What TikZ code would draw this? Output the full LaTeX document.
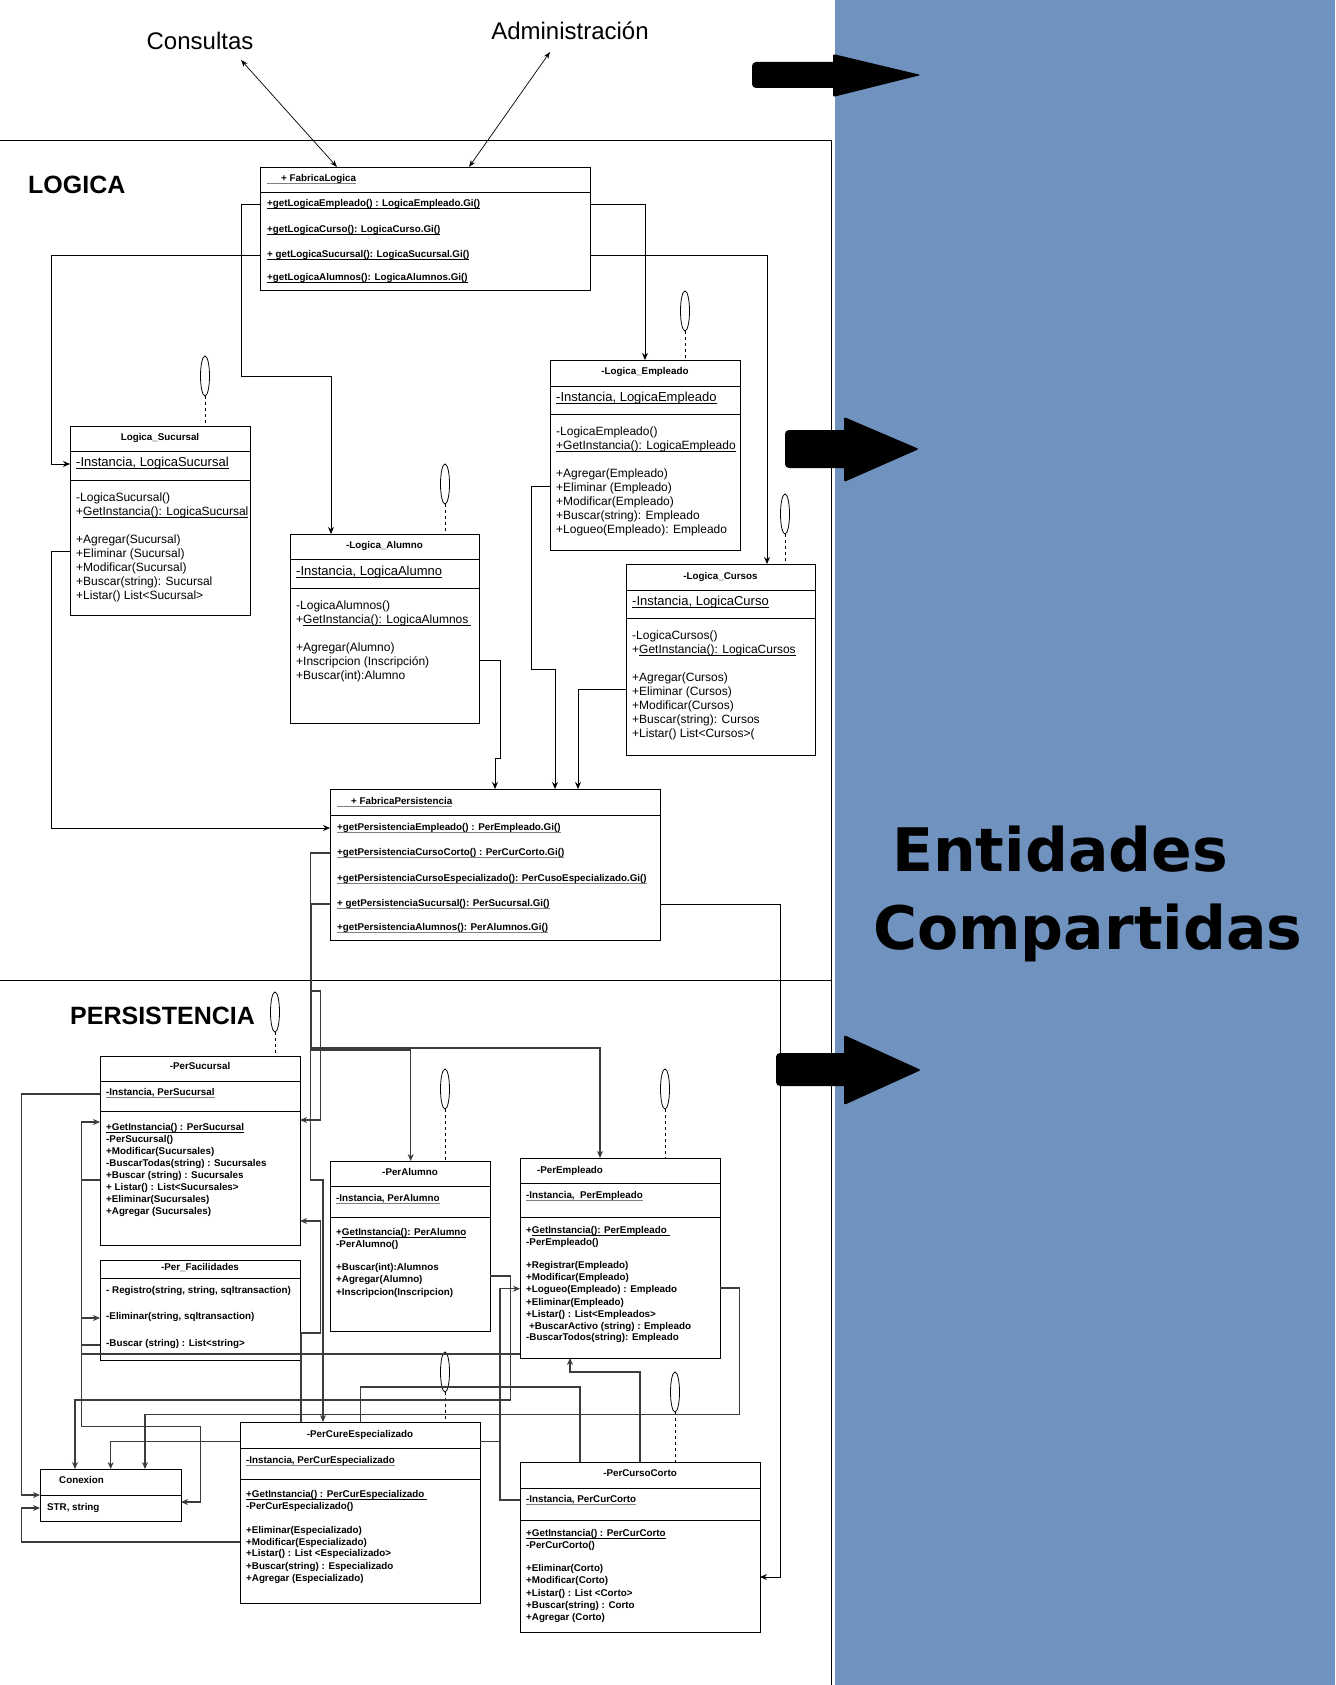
\documentclass[tikz,border=0pt]{standalone}
\usepackage{fontspec}
\setmainfont{Liberation Sans}
\newfontfamily\dejavu{DejaVu Sans}
\usetikzlibrary{arrows.meta,shapes.geometric,calc}
\definecolor{panel}{RGB}{112,146,190}
\definecolor{plinec}{RGB}{60,60,60}
\newcommand{\myul}[2][black]{\setbox0=\hbox{#2}\rlap{\color{#1}\rule[-1.9pt]{\wd0}{0.6pt}}\box0}
\begin{document}
\begin{tikzpicture}[x=1pt,y=-1pt,
  umlbox/.style={draw=black, line width=0.9pt, inner sep=0pt, outer sep=0pt, anchor=north west},
  lt/.style={inner sep=0pt, text height=0.7em, text depth=0.2em, anchor=west, font=\fontsize{12}{14}\selectfont},
  lat/.style={lt, font=\fontsize{13}{15}\selectfont},
  ltt/.style={lt, anchor=center, font=\bfseries\fontsize{9.8}{12}\selectfont},
  pt/.style={lt, font=\bfseries\fontsize{9.8}{12}\selectfont},
  ptt/.style={lt, anchor=center, font=\bfseries\fontsize{9.8}{12}\selectfont},
  life/.style={draw=black, line width=0.8pt, ellipse, minimum width=9pt, minimum height=40pt, inner sep=0pt},
  lifedash/.style={draw=black, line width=0.8pt, dashed},
  conn/.style={draw=black, line width=0.9pt, -{Stealth[length=7pt,width=6pt]}},
  pconn/.style={draw=plinec, line width=1.1pt, -{Stealth[length=7pt,width=6pt]}},
  pline/.style={draw=plinec, line width=1.1pt},
  dbl/.style={draw=black, line width=0.7pt, {Stealth[length=7pt,width=5pt]}-{Stealth[length=7pt,width=5pt]}},
  big/.style={fill=black}
]
\useasboundingbox (0,0) rectangle (1335,1685);
% panel and frame
\fill[panel] (835,0) rectangle (1335,1685);
\draw[line width=0.9pt] (0,140) -- (831,140);
\draw[line width=0.9pt] (0,980) -- (831,980);
\draw[line width=0.9pt] (831,140) -- (831,1685);

% big arrows
\fill[big, rounded corners=4pt] (752,62) rectangle (842,88);
\fill[big, rounded corners=2pt] (833,54) -- (921,75) -- (833,97) -- cycle;
\fill[big, rounded corners=4pt] (785,430) rectangle (850,468);
\fill[big, rounded corners=2pt] (844,417) -- (919,449) -- (844,482) -- cycle;
\fill[big, rounded corners=4pt] (776,1053) rectangle (850,1086);
\fill[big, rounded corners=2pt] (844,1035) -- (921,1070) -- (844,1105) -- cycle;

\node[inner sep=0pt, anchor=base west, font=\dejavu\bfseries\fontsize{60}{66}\selectfont] (ent1) at (892,871) {Entidades};
\node[inner sep=0pt, anchor=base west, font=\dejavu\bfseries\fontsize{60}{66}\selectfont] (ent2) at (873,949) {Compartidas};

% titles
\node[inner sep=0pt, font=\fontsize{24}{28}\selectfont] (cons) at (200,41) {Consultas};
\node[inner sep=0pt, font=\fontsize{24}{28}\selectfont] (admin) at (570,31) {Administración};
\node[inner sep=0pt, anchor=west, font=\bfseries\fontsize{25}{28}\selectfont] (logica) at (28,185) {LOGICA};
\node[inner sep=0pt, anchor=west, font=\bfseries\fontsize{25}{28}\selectfont] (pers) at (70,1016) {PERSISTENCIA};

% ---------------- FabricaLogica
\node[umlbox, minimum width=330pt, minimum height=123pt] (FL) at (260,167) {};
\draw[line width=0.9pt] (FL.west |- 0,192) -- (FL.east |- 0,192);
\node[pt] (fl0) at (267,179) {\myul[gray]{\hspace{14pt}+ FabricaLogica}};
\node[pt] (fl1) at (267,204) {\myul{+getLogicaEmpleado() : LogicaEmpleado.Gi()}};
\node[pt] (fl2) at (267,230) {\myul{+getLogicaCurso(): LogicaCurso.Gi()}};
\node[pt] (fl3) at (267,255) {\myul{+ getLogicaSucursal(): LogicaSucursal.Gi()}};
\node[pt] (fl4) at (267,278) {\myul{+getLogicaAlumnos(): LogicaAlumnos.Gi()}};

\coordinate (consA) at (241,60);
\coordinate (adminA) at (550,52);
\draw[dbl] (FL.north -| 337,0) -- (consA);
\draw[dbl] (FL.north -| 469,0) -- (adminA);

% ---------------- Logica_Sucursal
\node[umlbox, minimum width=180pt, minimum height=189pt] (LS) at (70,426) {};
\draw[line width=0.9pt] (LS.west |- 0,451) -- (LS.east |- 0,451);
\draw[line width=0.9pt] (LS.west |- 0,480) -- (LS.east |- 0,480);
\node[ltt] (ls0) at (160,438) {Logica\_Sucursal};
\node[lat] (ls1) at (76,464) {\myul{-Instancia, LogicaSucursal}};
\node[lt] (ls2) at (76,499) {-LogicaSucursal()};
\node[lt] (ls3) at (76,513) {+\myul{GetInstancia(): LogicaSucursal}};
\node[lt] (ls4) at (76,541) {+Agregar(Sucursal)};
\node[lt] (ls5) at (76,555) {+Eliminar (Sucursal)};
\node[lt] (ls6) at (76,569) {+Modificar(Sucursal)};
\node[lt] (ls7) at (76,583) {+Buscar(string): Sucursal};
\node[lt] (ls8) at (76,597) {+Listar() List<Sucursal>};
\node[life] (eLS) at (205,376) {};
\draw[lifedash] (eLS.south) -- (LS.north -| eLS.south);

% ---------------- Logica_Alumno
\node[umlbox, minimum width=189pt, minimum height=189pt] (LA) at (290,534) {};
\draw[line width=0.9pt] (LA.west |- 0,559) -- (LA.east |- 0,559);
\draw[line width=0.9pt] (LA.west |- 0,588) -- (LA.east |- 0,588);
\node[ltt] (la0) at (384.5,546) {-Logica\_Alumno};
\node[lat] (la1) at (296,573) {\myul{-Instancia, LogicaAlumno}};
\node[lt] (la2) at (296,607) {-LogicaAlumnos()};
\node[lt] (la3) at (296,621) {+\myul{GetInstancia(): LogicaAlumnos\hspace{3pt}}};
\node[lt] (la4) at (296,649) {+Agregar(Alumno)};
\node[lt] (la5) at (296,663) {+Inscripcion (Inscripción)};
\node[lt] (la6) at (296,677) {+Buscar(int):Alumno};
\node[life] (eLA) at (445,484) {};
\draw[lifedash] (eLA.south) -- (LA.north -| eLA.south);

% ---------------- Logica_Empleado
\node[umlbox, minimum width=190pt, minimum height=190pt] (LE) at (550,360) {};
\draw[line width=0.9pt] (LE.west |- 0,386) -- (LE.east |- 0,386);
\draw[line width=0.9pt] (LE.west |- 0,414) -- (LE.east |- 0,414);
\node[ltt] (le0) at (645,372) {-Logica\_Empleado};
\node[lat] (le1) at (556,399) {\myul{-Instancia, LogicaEmpleado}};
\node[lt] (le2) at (556,433) {-LogicaEmpleado()};
\node[lt] (le3) at (556,447) {\myul{+GetInstancia(): LogicaEmpleado}};
\node[lt] (le4) at (556,475) {+Agregar(Empleado)};
\node[lt] (le5) at (556,489) {+Eliminar (Empleado)};
\node[lt] (le6) at (556,503) {+Modificar(Empleado)};
\node[lt] (le7) at (556,517) {+Buscar(string): Empleado};
\node[lt] (le8) at (556,531) {+Logueo(Empleado): Empleado};
\node[life] (eLE) at (685,311) {};
\draw[lifedash] (eLE.south) -- (LE.north -| eLE.south);

% ---------------- Logica_Cursos
\node[umlbox, minimum width=189pt, minimum height=191pt] (LC) at (626,564) {};
\draw[line width=0.9pt] (LC.west |- 0,590) -- (LC.east |- 0,590);
\draw[line width=0.9pt] (LC.west |- 0,618) -- (LC.east |- 0,618);
\node[ltt] (lc0) at (720.5,577) {-Logica\_Cursos};
\node[lat] (lc1) at (632,603) {\myul{-Instancia, LogicaCurso}};
\node[lt] (lc2) at (632,637) {-LogicaCursos()};
\node[lt] (lc3) at (632,651) {+\myul{GetInstancia(): LogicaCursos}};
\node[lt] (lc4) at (632,679) {+Agregar(Cursos)};
\node[lt] (lc5) at (632,693) {+Eliminar (Cursos)};
\node[lt] (lc6) at (632,707) {+Modificar(Cursos)};
\node[lt] (lc7) at (632,721) {+Buscar(string): Cursos};
\node[lt] (lc8) at (632,735) {+Listar() List<Cursos>(};
\node[life] (eLC) at (785,514) {};
\draw[lifedash] (eLC.south) -- (LC.north -| eLC.south);

% ---------------- FabricaPersistencia
\node[umlbox, minimum width=330pt, minimum height=151pt] (FP) at (330,789) {};
\draw[line width=0.9pt] (FP.west |- 0,815) -- (FP.east |- 0,815);
\node[pt] (fp0) at (337,802) {\myul[gray]{\hspace{14pt}+ FabricaPersistencia}};
\node[pt] (fp1) at (337,828) {\myul[gray]{+getPersistenciaEmpleado() : PerEmpleado.Gi()}};
\node[pt] (fp2) at (337,853) {\myul[gray]{+getPersistenciaCursoCorto() : PerCurCorto.Gi()}};
\node[pt] (fp3) at (337,879) {\myul[gray]{+getPersistenciaCursoEspecializado(): PerCusoEspecializado.Gi()}};
\node[pt] (fp4) at (337,904) {\myul[gray]{+ getPersistenciaSucursal(): PerSucursal.Gi()}};
\node[pt] (fp5) at (337,928) {\myul[gray]{+getPersistenciaAlumnos(): PerAlumnos.Gi()}};

% logic connectors
\draw[conn] (FL.east |- 0,204) -- (645,204) -- (LE.north -| 645,0);
\draw[conn] (FL.east |- 0,255) -- (767,255) -- (LC.north -| 767,0);
\draw[conn] (FL.west |- 0,255) -- (51,255) -- (51,464) -- (LS.west |- 0,464);
\draw[conn] (FL.west |- 0,204) -- (241,204) -- (241,376) -- (331,376) -- (LA.north -| 331,0);
\draw[conn] (LS.west |- 0,551) -- (51,551) -- (51,828) -- (FP.west |- 0,828);
\draw[conn] (LA.east |- 0,660) -- (500,660) -- (500,758) -- (495,758) -- (FP.north -| 495,0);
\draw[conn] (LE.west |- 0,486) -- (531,486) -- (531,669) -- (555,669) -- (FP.north -| 555,0);
\draw[conn] (LC.west |- 0,689) -- (578,689) -- (FP.north -| 578,0);

% ---------------- PerSucursal
\node[umlbox, minimum width=200pt, minimum height=189pt] (PS) at (100,1056) {};
\draw[line width=0.9pt] (PS.west |- 0,1081) -- (PS.east |- 0,1081);
\draw[line width=0.9pt] (PS.west |- 0,1111) -- (PS.east |- 0,1111);
\node[ptt] (ps0) at (200,1067) {-PerSucursal};
\node[pt] (ps1) at (106,1093) {\myul[gray]{-Instancia, PerSucursal}};
\node[pt] (ps2) at (106,1128) {\myul{+GetInstancia() : PerSucursal}};
\node[pt] (ps3) at (106,1140) {-PerSucursal()};
\node[pt] (ps4) at (106,1152) {+Modificar(Sucursales)};
\node[pt] (ps5) at (106,1164) {-BuscarTodas(string) : Sucursales};
\node[pt] (ps6) at (106,1176) {+Buscar (string) : Sucursales};
\node[pt] (ps7) at (106,1188) {+ Listar() : List<Sucursales>};
\node[pt] (ps8) at (106,1200) {+Eliminar(Sucursales)};
\node[pt] (ps9) at (106,1212) {+Agregar (Sucursales)};
\node[life] (ePS) at (275,1012) {};
\draw[lifedash] (ePS.south) -- (PS.north -| ePS.south);

% ---------------- Per_Facilidades
\node[umlbox, minimum width=200pt, minimum height=100pt] (PF) at (100,1260) {};
\draw[line width=0.9pt] (PF.west |- 0,1278) -- (PF.east |- 0,1278);
\node[ptt] (pf0) at (200,1268) {-Per\_Facilidades};
\node[pt] (pf1) at (106,1291) {- Registro(string, string, sqltransaction)};
\node[pt] (pf2) at (106,1317) {-Eliminar(string, sqltransaction)};
\node[pt] (pf3) at (106,1344) {-Buscar (string) : List<string>};

% ---------------- PerAlumno
\node[umlbox, minimum width=160pt, minimum height=170pt] (PA) at (330,1161) {};
\draw[line width=0.9pt] (PA.west |- 0,1186) -- (PA.east |- 0,1186);
\draw[line width=0.9pt] (PA.west |- 0,1217) -- (PA.east |- 0,1217);
\node[ptt] (pa0) at (410,1173) {-PerAlumno};
\node[pt] (pa1) at (336,1199) {\myul[gray]{-Instancia, PerAlumno}};
\node[pt] (pa2) at (336,1233) {+\myul{GetInstancia(): PerAlumno}};
\node[pt] (pa3) at (336,1245) {-PerAlumno()};
\node[pt] (pa4) at (336,1268) {+Buscar(int):Alumnos};
\node[pt] (pa5) at (336,1280) {+Agregar(Alumno)};
\node[pt] (pa6) at (336,1293) {+Inscripcion(Inscripcion)};
\node[life] (ePA) at (445,1089) {};
\draw[lifedash] (ePA.south) -- (PA.north -| ePA.south);

% ---------------- PerEmpleado
\node[umlbox, minimum width=200pt, minimum height=200pt] (PE) at (520,1158) {};
\draw[line width=0.9pt] (PE.west |- 0,1183) -- (PE.east |- 0,1183);
\draw[line width=0.9pt] (PE.west |- 0,1217) -- (PE.east |- 0,1217);
\node[ptt] (pe0) at (570,1171) {-PerEmpleado};
\node[pt] (pe1) at (526,1196) {\myul[gray]{-Instancia,\ \ PerEmpleado}};
\node[pt] (pe2) at (526,1231) {+\myul{GetInstancia(): PerEmpleado\ }};
\node[pt] (pe3) at (526,1243) {-PerEmpleado()};
\node[pt] (pe4) at (526,1266) {+Registrar(Empleado)};
\node[pt] (pe5) at (526,1278) {+Modificar(Empleado)};
\node[pt] (pe6) at (526,1290) {+Logueo(Empleado) : Empleado};
\node[pt] (pe7) at (526,1303) {+Eliminar(Empleado)};
\node[pt] (pe8) at (526,1315) {+Listar() : List<Empleados>};
\node[pt] (pe9) at (529,1327) {+BuscarActivo (string) : Empleado};
\node[pt] (pe10) at (526,1338) {-BuscarTodos(string): Empleado};
\node[life] (ePE) at (665,1089) {};
\draw[lifedash] (ePE.south) -- (PE.north -| ePE.south);

% ---------------- PerCureEspecializado
\node[umlbox, minimum width=240pt, minimum height=181pt] (PCE) at (240,1422) {};
\draw[line width=0.9pt] (PCE.west |- 0,1448) -- (PCE.east |- 0,1448);
\draw[line width=0.9pt] (PCE.west |- 0,1479) -- (PCE.east |- 0,1479);
\node[ptt] (pce0) at (360,1435) {-PerCureEspecializado};
\node[pt] (pce1) at (246,1461) {\myul[gray]{-Instancia, PerCurEspecializado}};
\node[pt] (pce2) at (246,1495) {\myul{+GetInstancia() : PerCurEspecializado\ }};
\node[pt] (pce3) at (246,1507) {-PerCurEspecializado()};
\node[pt] (pce4) at (246,1531) {+Eliminar(Especializado)};
\node[pt] (pce5) at (246,1543) {+Modificar(Especializado)};
\node[pt] (pce6) at (246,1554) {+Listar() : List <Especializado>};
\node[pt] (pce7) at (246,1567) {+Buscar(string) : Especializado};
\node[pt] (pce8) at (246,1579) {+Agregar (Especializado)};
\node[life] (ePCE) at (445,1372) {};
\draw[lifedash] (ePCE.south) -- (PCE.north -| ePCE.south);

% ---------------- PerCursoCorto
\node[umlbox, minimum width=240pt, minimum height=170pt] (PCC) at (520,1462) {};
\draw[line width=0.9pt] (PCC.west |- 0,1488) -- (PCC.east |- 0,1488);
\draw[line width=0.9pt] (PCC.west |- 0,1520) -- (PCC.east |- 0,1520);
\node[ptt] (pcc0) at (640,1474) {-PerCursoCorto};
\node[pt] (pcc1) at (526,1500) {\myul[gray]{-Instancia, PerCurCorto}};
\node[pt] (pcc2) at (526,1534) {\myul{+GetInstancia() : PerCurCorto}};
\node[pt] (pcc3) at (526,1546) {-PerCurCorto()};
\node[pt] (pcc4) at (526,1569) {+Eliminar(Corto)};
\node[pt] (pcc5) at (526,1581) {+Modificar(Corto)};
\node[pt] (pcc6) at (526,1594) {+Listar() : List <Corto>};
\node[pt] (pcc7) at (526,1606) {+Buscar(string) : Corto};
\node[pt] (pcc8) at (526,1618) {+Agregar (Corto)};
\node[life] (ePCC) at (675,1392) {};
\draw[lifedash] (ePCC.south) -- (PCC.north -| ePCC.south);

% ---------------- Conexion
\node[umlbox, minimum width=141pt, minimum height=52pt] (CX) at (40,1469) {};
\draw[line width=0.9pt] (CX.west |- 0,1495) -- (CX.east |- 0,1495);
\node[pt] (cx0) at (59,1481) {Conexion};
\node[pt] (cx1) at (47,1508) {STR, string};

% FabricaPersistencia -> PerCursoCorto
\draw[conn] (FP.east |- 0,904) -- (780,904) -- (780,1577) -- (PCC.east |- 0,1577);

% persistence connectors
\draw[pline, line width=2pt] (FP.west |- 0,904) -- (310.5,904) -- (310.5,1048);
\draw[pconn, line width=1.6pt] (310.5,1048) -- (600,1048) -- (PE.north -| 600,0);
\draw[pconn] (310.5,1050) -- (410.7,1050) -- (PA.north -| 410.7,0);
\draw[pconn] (FP.west |- 0,853) -- (310.5,853) -- (310.5,1180) -- (323,1180) -- (PCE.north -| 323,0);
\draw[pconn] (310.5,991) -- (320.7,991) -- (320.7,1120) -- (PS.east |- 0,1120);
\draw[pconn] (PCE.north -| 301,0) -- (301,1333) -- (320.7,1333) -- (320.7,1221) -- (PS.east |- 0,1221);
\draw[pconn] (PS.west |- 0,1094) -- (21.4,1094) -- (21.4,1495) -- (CX.west |- 0,1495);
\draw[pconn] (PCE.west |- 0,1542) -- (21.4,1542) -- (21.4,1508) -- (CX.west |- 0,1508);
\draw[pconn] (81.4,1426.5) -- (81.4,1122) -- (PS.west |- 0,1122);
\draw[pconn] (81.4,1318) -- (PF.west |- 0,1318);
\draw[pconn] (81.4,1426.5) -- (200.7,1426.5) -- (200.7,1502) -- (CX.east |- 0,1502);
\draw[pline] (PS.west |- 0,1180) -- (81.4,1180);
\draw[pline] (PF.west |- 0,1345) -- (81.4,1345);
\draw[pline] (81.4,1354) -- (PE.west |- 0,1354);
\draw[pconn] (PA.east |- 0,1276) -- (510.7,1276) -- (510.7,1400) -- (75,1400) -- (CX.north -| 75,0);
\draw[pconn] (PE.east |- 0,1288) -- (739.5,1288) -- (739.5,1414.6) -- (145,1414.6) -- (CX.north -| 145,0);
\draw[pconn] (PCE.west |- 0,1441.4) -- (110.7,1441.4) -- (CX.north -| 110.7,0);
\draw[pconn] (PCC.west |- 0,1500) -- (500,1500) -- (500,1288.7) -- (PE.west |- 0,1288.7);
\draw[pline] (PCE.east |- 0,1441.4) -- (500,1441.4);
\draw[pconn] (PCC.north -| 640,0) -- (640,1372) -- (570,1372) -- (PE.south -| 570,0);
\draw[pline] (PCC.north -| 580,0) -- (580,1387) -- (360.7,1387) -- (PCE.north -| 360.7,0);
\end{tikzpicture}
\end{document}
